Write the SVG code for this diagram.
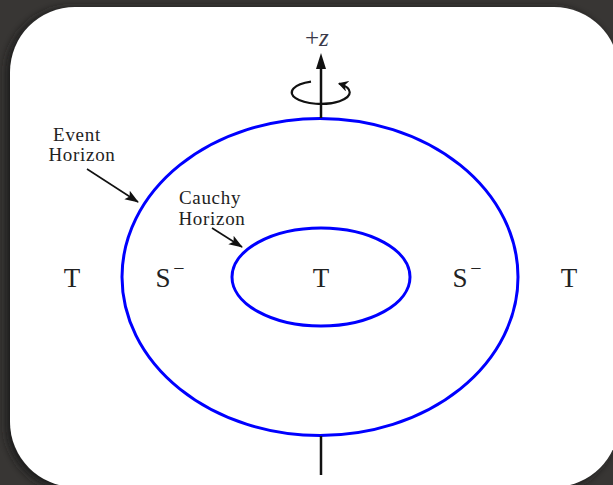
<svg xmlns="http://www.w3.org/2000/svg" width="613" height="485" viewBox="0 0 613 485">
<style>
.lbl{font-family:"Liberation Serif","DejaVu Serif",serif;fill:#222;}
.big{font-size:27px;}
.sm{font-size:19px;letter-spacing:0.7px;}
.sup{font-size:20px;}
.hz{fill:none;stroke:#0000ff;stroke-width:3;}
.ptr{fill:none;stroke:#111;stroke-width:1.6;}
</style>
<defs>
<marker id="ah" markerUnits="userSpaceOnUse" markerWidth="16" markerHeight="12" refX="13" refY="5" orient="auto">
<path d="M0,0 L14,5 L0,10 L3,5 Z" fill="#111"/>
</marker>
<marker id="ahs" markerUnits="userSpaceOnUse" markerWidth="14" markerHeight="12" refX="9" refY="5.5" orient="auto">
<path d="M0,0 L10,5.5 L0,11 L3,5.5 Z" fill="#111"/>
</marker>
<filter id="sh" x="-10%" y="-10%" width="120%" height="120%">
<feGaussianBlur stdDeviation="4"/>
</filter>
</defs>
<rect width="613" height="485" fill="#383634"/>
<rect x="6" y="8" width="609" height="482" rx="65" fill="#1e1d1c" filter="url(#sh)"/>
<rect x="10" y="7" width="609" height="480" rx="65" fill="#ffffff"/>
<g id="event-horizon"><ellipse class="hz" cx="320" cy="277" rx="198" ry="158.5"/></g>
<g id="cauchy-horizon"><ellipse class="hz" cx="321" cy="277" rx="89" ry="49"/></g>
<g id="axis">
<line x1="321" y1="118" x2="321" y2="66" stroke="#111" stroke-width="2.5"/>
<path d="M321,53 L326,69 L316,69 Z" fill="#111"/>
<line x1="321" y1="436" x2="321" y2="475" stroke="#111" stroke-width="2.5"/>
<path d="M311,81.6 A29 11.5 0 1 0 339 83.5" fill="none" stroke="#111" stroke-width="2.2" marker-end="url(#ahs)"/>
<text x="305" y="46" class="lbl" style="font-size:25px;fill:#3a3a4a">+<tspan style="font-style:italic">z</tspan></text>
</g>
<g id="labels">
<text class="lbl big" x="72" y="287" text-anchor="middle">T</text>
<text class="lbl big" x="163" y="287" text-anchor="middle">S</text>
<text class="lbl sup" x="179" y="275" text-anchor="middle">−</text>
<text class="lbl big" x="321" y="287" text-anchor="middle">T</text>
<text class="lbl big" x="460" y="287" text-anchor="middle">S</text>
<text class="lbl sup" x="476" y="275" text-anchor="middle">−</text>
<text class="lbl big" x="569" y="287" text-anchor="middle">T</text>
</g>
<g id="event-label">
<text class="lbl sm" x="77" y="141" text-anchor="middle">Event</text>
<text class="lbl sm" x="82" y="161" text-anchor="middle">Horizon</text>
</g>
<g id="cauchy-label">
<text class="lbl sm" x="210" y="204" text-anchor="middle">Cauchy</text>
<text class="lbl sm" x="212" y="225" text-anchor="middle">Horizon</text>
</g>
<g id="connectors">
<line class="ptr" x1="87" y1="169" x2="138" y2="202" marker-end="url(#ah)"/>
<line class="ptr" x1="212" y1="228" x2="242" y2="247" marker-end="url(#ah)"/>
</g>
</svg>
